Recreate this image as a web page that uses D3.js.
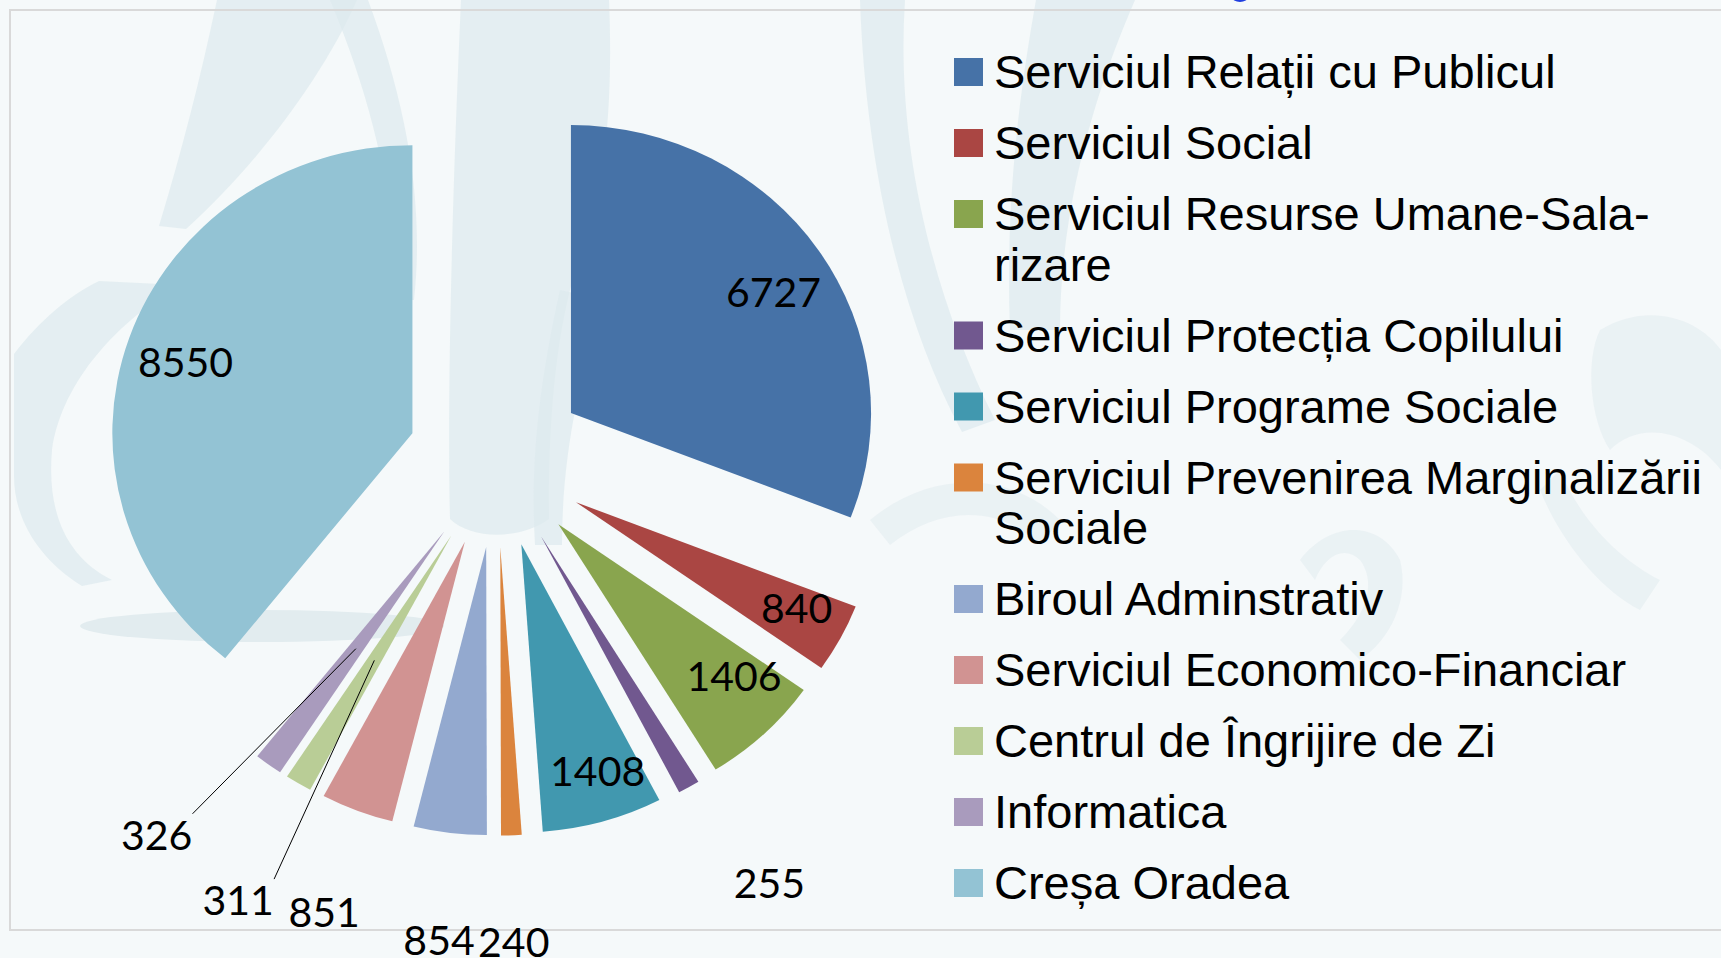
<!DOCTYPE html>
<html>
<head>
<meta charset="utf-8">
<script src="https://cdn.jsdelivr.net/npm/d3@7"></script>
<style>
  body { margin: 0; background: #f5f9fa; overflow: hidden; }
  svg { display: block; }
</style>
</head>
<body>
<script>
var width = 1721,
    height = 958;

// data
var categories = [
  "Serviciul Relații cu Publicul",
  "Serviciul Social",
  "Serviciul Resurse Umane-Sala-\nrizare",
  "Serviciul Protecția Copilului",
  "Serviciul Programe Sociale",
  "Serviciul Prevenirea Marginalizării\nSociale",
  "Biroul Adminstrativ",
  "Serviciul Economico-Financiar",
  "Centrul de Îngrijire de Zi",
  "Informatica",
  "Creșa Oradea"
];
var values = [6727, 840, 1406, 255, 1408, 240, 854, 851, 311, 326, 8550];
var colors = ["#4672a7", "#aa4643", "#89a54e", "#71588f", "#4198af", "#db843d",
              "#93a9cf", "#d19392", "#b9cd96", "#a99bbd", "#93c3d4"];

// label placement (distance from pie centre, angle nudge in degrees, leader line)
var labelRadius = [315, 323, 313, 496, 324, 481, 482, 480, 504, 496, 315];
var labelShift  = [1.8, -1.1, -3.4, -2.3, -1.6, 0.2, -0.3, -0.8, -1.1, 5.3, -0.9];
var leader      = [false, false, false, false, false, false, false, false, true, true, false];

var cx = 497, cy = 461.6,
    radius = 288,
    stretch = 1.042,   // the original pie is a bit wider than tall
    explode = 86;

var svg = d3.select("body").append("svg")
    .attr("width", width)
    .attr("height", height);

// faint watermark behind the chart
var wm = svg.append("g").attr("class", "watermark");
var wmLeft = [
  "M461,0 L609,0 C614,120 602,200 578,262 C556,330 548,420 549,519 C520,540 472,540 450,519 C447,400 452,200 461,0 Z",
  "M217,0 L357,0 C322,80 252,170 186,229 L159,226 C182,150 200,80 217,0 Z",
  "M330,0 L368,0 C405,100 425,200 414,300 L396,300 C396,200 372,100 330,0 Z",
  "M14,354 C40,320 70,295 99,281 L180,285 C120,320 62,380 52,450 C46,520 72,560 112,580 L82,586 C40,560 14,520 14,476 Z",
  "M560,290 C540,380 530,460 535,545 L562,545 C562,460 578,380 604,300 Z",
  "M860,0 L905,0 C895,150 935,300 995,420 L962,432 C902,320 866,170 860,0 Z",
  "M1036,0 L1135,0 C1100,80 1060,200 1060,330 L1010,330 C1005,200 1020,90 1036,0 Z"
];
var wmRight = [
  "M870,520 C930,470 1010,470 1060,520 L1040,545 C1000,505 940,505 890,545 Z",
  "M1600,330 C1650,300 1700,320 1721,350 L1721,470 C1690,430 1640,420 1610,450 C1590,420 1585,360 1600,330 Z",
  "M1560,470 C1580,520 1620,560 1660,580 L1640,610 C1600,590 1560,540 1540,490 Z",
  "M1300,560 C1330,520 1380,520 1400,560 C1410,600 1390,640 1360,660 L1340,640 C1370,610 1375,580 1360,560 C1345,545 1325,555 1315,580 Z"
];
wm.selectAll("path.wl")
    .data(wmLeft)
    .enter().append("path")
    .attr("class", "wl")
    .attr("d", function(d) { return d; })
    .attr("fill", "#dde9ee")
    .attr("opacity", 0.7);
wm.selectAll("path.wr")
    .data(wmRight)
    .enter().append("path")
    .attr("class", "wr")
    .attr("d", function(d) { return d; })
    .attr("fill", "#dde9ee")
    .attr("opacity", 0.45);
wm.append("ellipse")
    .attr("cx", 262).attr("cy", 626)
    .attr("rx", 182).attr("ry", 16)
    .attr("fill", "#e2ecef");

// plot area border
svg.append("rect")
    .attr("x", 10)
    .attr("y", 10)
    .attr("width", 1740)
    .attr("height", 920)
    .attr("fill", "none")
    .attr("stroke", "#d9d9d9")
    .attr("stroke-width", 2);

// bit of the (cut off) title above the chart
svg.append("ellipse")
    .attr("cx", 1240).attr("cy", -3)
    .attr("rx", 8).attr("ry", 5)
    .attr("fill", "#1f3fe0");

var pie = d3.pie()
    .sort(null)
    .value(function(d) { return d; });

var arcs = pie(values);

var arc = d3.arc()
    .innerRadius(0)
    .outerRadius(radius);

function mid(d) { return (d.startAngle + d.endAngle) / 2; }
function polar(a, r) { return [Math.sin(a) * r * stretch, -Math.cos(a) * r]; }

var gPie = svg.append("g")
    .attr("transform", "translate(" + cx + "," + cy + ")");

gPie.selectAll("path.slice")
    .data(arcs)
    .enter().append("path")
    .attr("class", "slice")
    .attr("d", arc)
    .attr("fill", function(d, i) { return colors[i]; })
    .attr("transform", function(d) {
        var p = polar(mid(d), explode);
        return "translate(" + p[0] + "," + p[1] + ") scale(" + stretch + ",1)";
    });

// data labels
var labelPos = arcs.map(function(d, i) {
    return polar(mid(d) + labelShift[i] * Math.PI / 180, labelRadius[i]);
});

gPie.selectAll("line.leader")
    .data(arcs.filter(function(d, i) { return leader[i]; }))
    .enter().append("line")
    .attr("class", "leader")
    .attr("x1", function(d) { return labelPos[d.index][0] + 36; })
    .attr("y1", function(d) { return labelPos[d.index][1] - 21; })
    .attr("x2", function(d) { return polar(mid(d), 231)[0]; })
    .attr("y2", function(d) { return polar(mid(d), 231)[1]; })
    .attr("stroke", "#000")
    .attr("stroke-width", 1);

gPie.selectAll("text.value")
    .data(arcs)
    .enter().append("text")
    .attr("class", "value")
    .attr("x", function(d, i) { return labelPos[i][0]; })
    .attr("y", function(d, i) { return labelPos[i][1]; })
    .attr("dy", "0.36em")
    .attr("text-anchor", "middle")
    .attr("font-family", "Lato, 'Open Sans', sans-serif")
    .attr("font-size", 41)
    .attr("fill", "#000")
    .text(function(d) { return d.data; });

// legend
var legend = svg.append("g")
    .attr("class", "legend")
    .attr("font-family", "'Liberation Sans', Arial, sans-serif")
    .attr("font-size", 47)
    .attr("fill", "#000");

var lineH = 50.5, gap = 20.5;
var y = 88;
categories.forEach(function(name, i) {
    var lines = name.split("\n");
    legend.append("rect")
        .attr("x", 954)
        .attr("y", y - 30)
        .attr("width", 29)
        .attr("height", 28)
        .attr("fill", colors[i]);
    var t = legend.append("text")
        .attr("x", 994)
        .attr("y", y);
    lines.forEach(function(l, j) {
        t.append("tspan")
            .attr("x", 994)
            .attr("dy", j === 0 ? 0 : lineH)
            .text(l);
    });
    y += lines.length * lineH + gap;
});
</script>
</body>
</html>
